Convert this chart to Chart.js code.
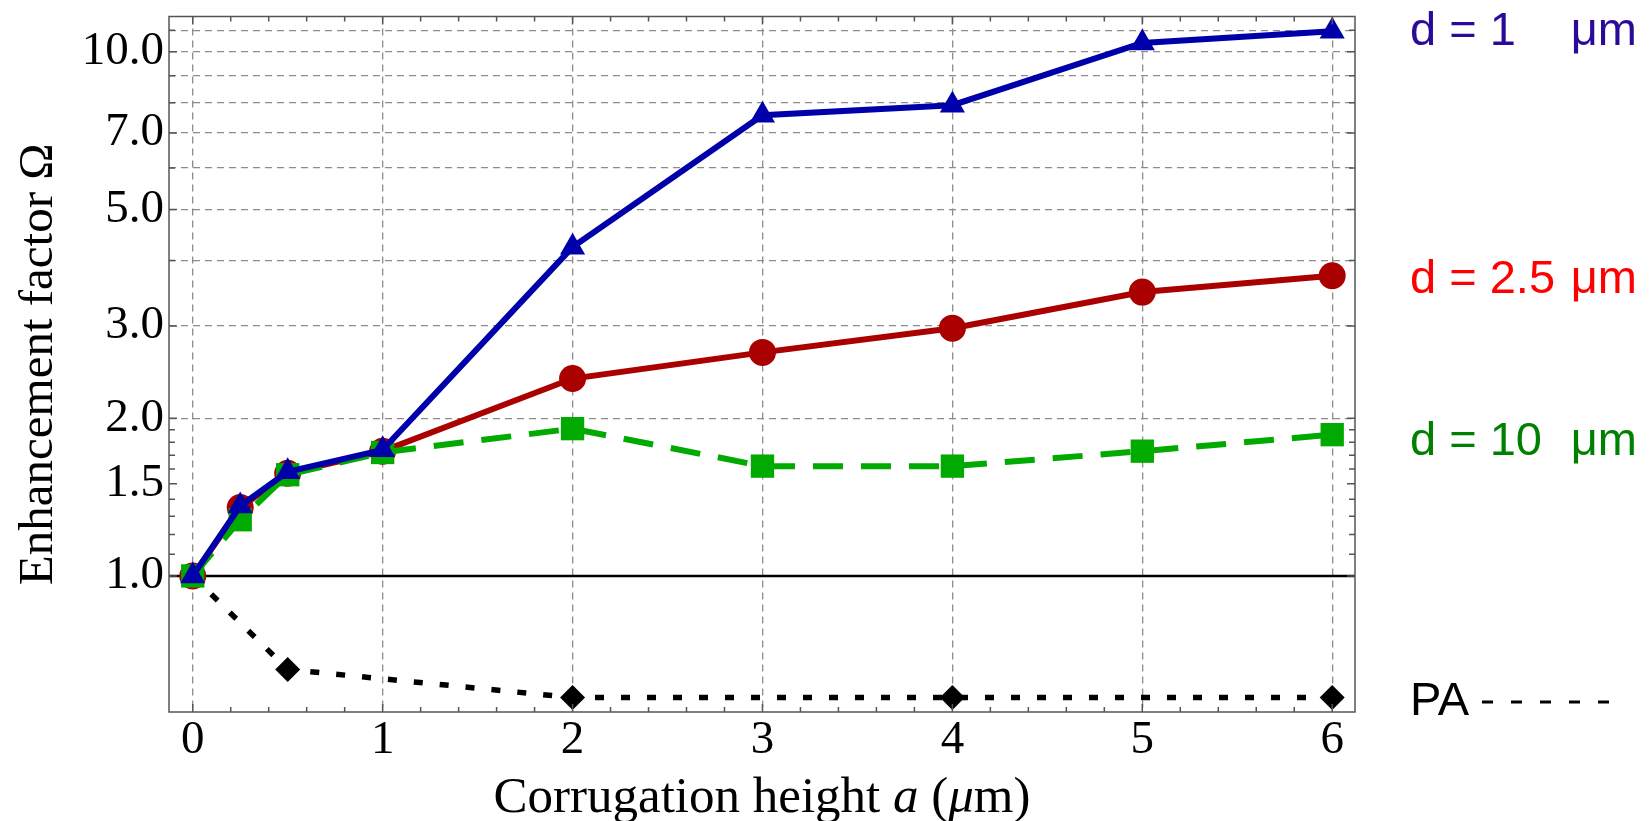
<!DOCTYPE html>
<html>
<head>
<meta charset="utf-8">
<script src="https://cdn.jsdelivr.net/npm/chart.js@4.4.0/dist/chart.umd.min.js"></script>
<style>
  html, body { margin: 0; padding: 0; background: #fff; }
</style>
</head>
<body>
<canvas id="omegaChart" width="1649" height="821"></canvas>
<script>
// corrugation height a (µm)
const heights = [0, 0.25, 0.5, 1, 2, 3, 4, 5, 6];
// enhancement factor for each gap d
const omegaD1 = [1.0, 1.36, 1.58, 1.74, 4.24, 7.57, 7.91, 10.4, 10.95];
const omegaD25 = [1.0, 1.35, 1.57, 1.73, 2.38, 2.67, 2.97, 3.48, 3.74];
const omegaD10 = [1.0, 1.28, 1.56, 1.72, 1.91, 1.62, 1.62, 1.73, 1.86];
// PA (proximity approximation)
const paHeights = [0, 0.5, 2, 4, 6];
const omegaPA = [1.0, 0.663, 0.586, 0.586, 0.586];

const xTicks = [0, 1, 2, 3, 4, 5, 6];
const yTicks = [1, 1.1, 1.2, 1.3, 1.4, 1.5, 1.6, 1.7, 1.8, 1.9, 2, 3, 4, 5, 6, 7, 8, 9, 10, 11];
const yLabels = [1, 1.5, 2, 3, 5, 7, 10];

const pts = (xs, ys) => xs.map((x, i) => ({ x: x, y: ys[i] }));
const serif = "'Liberation Serif', 'Times New Roman', serif";
const sans = "'Liberation Sans', Arial, sans-serif";

const framePlugin = {
    id: 'frame',
    beforeDatasetsDraw(chart) {
        const { ctx, chartArea: a, scales: { y } } = chart;
        const py = y.getPixelForValue(1);
        ctx.save();
        ctx.strokeStyle = '#000';
        ctx.lineWidth = 2.5;
        ctx.beginPath();
        ctx.moveTo(a.left, py);
        ctx.lineTo(a.right, py);
        ctx.stroke();
        ctx.restore();
    },
    afterDraw(chart) {
        const { ctx, chartArea: a, scales: { x, y } } = chart;
        ctx.save();
        // frame
        ctx.strokeStyle = '#555';
        ctx.lineWidth = 1.5;
        ctx.strokeRect(a.left, a.top, a.right - a.left, a.bottom - a.top);
        // inward tick marks
        ctx.beginPath();
        for (let i = 0; i <= 30; i++) {
            const px = x.getPixelForValue(i / 5);
            const len = i % 5 === 0 ? 8 : 5;
            ctx.moveTo(px, a.bottom); ctx.lineTo(px, a.bottom - len);
            ctx.moveTo(px, a.top); ctx.lineTo(px, a.top + len);
        }
        yTicks.forEach(v => {
            const py = y.getPixelForValue(v);
            const len = yLabels.includes(v) ? 8 : 6;
            ctx.moveTo(a.left, py); ctx.lineTo(a.left + len, py);
            ctx.moveTo(a.right, py); ctx.lineTo(a.right - len, py);
        });
        ctx.stroke();

        // axis titles
        ctx.fillStyle = '#000';
        ctx.textBaseline = 'alphabetic';
        ctx.save();
        ctx.translate(52, (a.top + a.bottom) / 2);
        ctx.rotate(-Math.PI / 2);
        ctx.textAlign = 'center';
        ctx.font = '49px ' + serif;
        ctx.fillText('Enhancement factor \u03A9', 0, 0);
        ctx.restore();

        const parts = [
            ['Corrugation height ', 'normal'],
            ['a', 'italic'],
            [' (', 'normal'],
            ['\u03BC', 'italic'],
            ['m)', 'normal']
        ];
        let total = 0;
        parts.forEach(p => { ctx.font = p[1] + ' 51px ' + serif; total += ctx.measureText(p[0]).width; });
        let cx = (a.left + a.right) / 2 - total / 2;
        ctx.textAlign = 'left';
        parts.forEach(p => {
            ctx.font = p[1] + ' 51px ' + serif;
            ctx.fillText(p[0], cx, 812);
            cx += ctx.measureText(p[0]).width;
        });

        // series labels on the right
        ctx.font = '47px ' + sans;
        const labels = [
            ['d = 1', '#2a0a99', 45],
            ['d = 2.5', '#ff0000', 293],
            ['d = 10', '#008000', 455]
        ];
        labels.forEach(l => {
            ctx.fillStyle = l[1];
            ctx.textAlign = 'left';
            ctx.fillText(l[0], 1410, l[2]);
            ctx.textAlign = 'right';
            ctx.fillText('\u03BCm', 1637, l[2]);
        });
        ctx.fillStyle = '#000';
        ctx.textAlign = 'left';
        ctx.fillText('PA', 1410, 715);
        ctx.strokeStyle = '#000';
        ctx.lineWidth = 3;
        ctx.setLineDash([11, 18]);
        ctx.beginPath();
        ctx.moveTo(1482, 702);
        ctx.lineTo(1615, 702);
        ctx.stroke();
        ctx.restore();
    }
};

const ctx = document.getElementById('omegaChart').getContext('2d');
new Chart(ctx, {
    type: 'line',
    data: {
        datasets: [
            {
                label: 'd = 1 \u03BCm',
                data: pts(heights, omegaD1),
                borderColor: '#0000aa',
                backgroundColor: '#0000aa',
                borderWidth: 6,
                pointStyle: 'triangle',
                pointRadius: 14.5,
                pointBorderWidth: 0
            },
            {
                label: 'd = 10 \u03BCm',
                data: pts(heights, omegaD10),
                borderColor: '#00aa00',
                backgroundColor: '#00aa00',
                borderWidth: 6,
                borderDash: [30, 18],
                pointStyle: 'rect',
                pointRadius: 16.5,
                pointBorderWidth: 0
            },
            {
                label: 'd = 2.5 \u03BCm',
                data: pts(heights, omegaD25),
                borderColor: '#aa0000',
                backgroundColor: '#aa0000',
                borderWidth: 6,
                pointStyle: 'circle',
                pointRadius: 13.5,
                pointBorderWidth: 0
            },
            {
                label: 'PA',
                data: pts(paHeights, omegaPA),
                borderColor: '#000',
                backgroundColor: '#000',
                borderWidth: 5.5,
                borderDash: [9, 17],
                pointStyle: 'rectRot',
                pointRadius: 12.5,
                pointBorderWidth: 0
            }
        ]
    },
    options: {
        responsive: false,
        animation: false,
        devicePixelRatio: 1,
        clip: false,
        layout: { padding: { top: 15, right: 294, bottom: 0, left: 0 } },
        scales: {
            x: {
                type: 'linear',
                min: -0.125,
                max: 6.12,
                afterBuildTicks: s => { s.ticks = xTicks.map(v => ({ value: v })); },
                afterFit: s => { s.height = 109; s.paddingLeft = 0; s.paddingRight = 0; },
                ticks: {
                    autoSkip: false,
                    maxRotation: 0,
                    padding: 0,
                    color: '#000',
                    font: { family: serif, size: 47 },
                    callback: v => String(v)
                },
                grid: { color: '#8c8c8c', lineWidth: 1.3, drawTicks: false, tickLength: 0 },
                border: { display: false, dash: [7, 5] }
            },
            y: {
                type: 'logarithmic',
                min: 0.55,
                max: 11.68,
                afterBuildTicks: s => { s.ticks = yTicks.map(v => ({ value: v })); },
                afterFit: s => { s.width = 169; s.paddingTop = 0; s.paddingBottom = 0; },
                ticks: {
                    autoSkip: false,
                    padding: 5,
                    color: '#000',
                    font: { family: serif, size: 47 },
                    callback: v => yLabels.includes(v) ? v.toFixed(1) : ''
                },
                grid: {
                    drawTicks: false,
                    tickLength: 0,
                    lineWidth: 1.3,
                    color: c => (c.tick && c.tick.value >= 2 && Number.isInteger(c.tick.value)) ? '#8c8c8c' : 'rgba(0,0,0,0)'
                },
                border: { display: false, dash: [7, 5] }
            }
        },
        plugins: {
            legend: { display: false },
            tooltip: { enabled: false }
        }
    },
    plugins: [framePlugin]
});
</script>
</body>
</html>
